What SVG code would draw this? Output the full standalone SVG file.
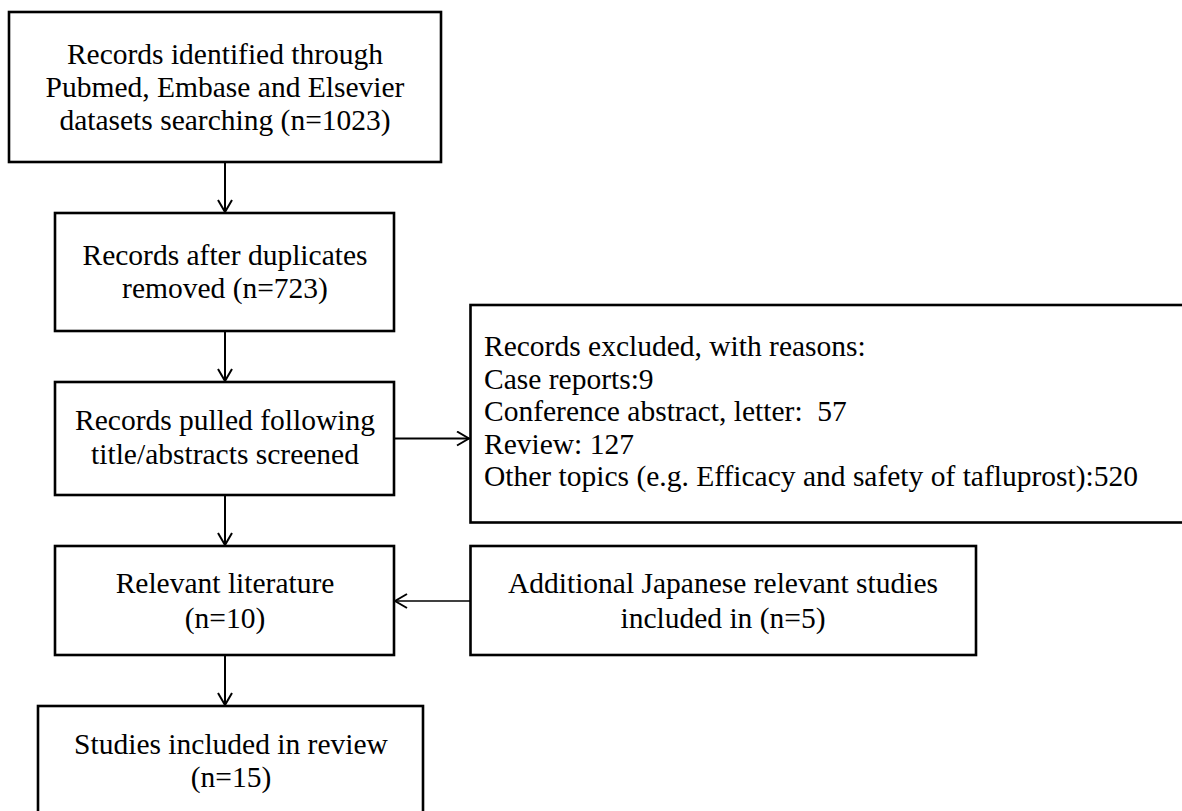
<svg xmlns="http://www.w3.org/2000/svg" width="1182" height="811" viewBox="0 0 1182 811">
  <style>
    .box { fill: #ffffff; stroke: #000000; stroke-width: 2.6; }
    .t { font-family: "Liberation Serif", "Times New Roman", serif; font-size: 29.5px; fill: #000000; }
    .c { text-anchor: middle; }
    .l { text-anchor: start; }
    .edge { fill: none; stroke: #000000; stroke-width: 2; }
    .thin { stroke-width: 1.6; }
  </style>
  <defs>
    <marker id="arrow" viewBox="0 0 14 16" refX="13" refY="8" markerWidth="14" markerHeight="16" markerUnits="userSpaceOnUse" orient="auto">
      <path d="M1,1 L13,8 L1,15" fill="none" stroke="#000000" stroke-width="2"/>
    </marker>
  </defs>
  <rect x="0" y="0" width="1182" height="811" fill="#ffffff"/>

  <g id="connectors">
    <line class="edge" x1="225" y1="162" x2="225" y2="212" marker-end="url(#arrow)"/>
    <line class="edge" x1="225" y1="331" x2="225" y2="381" marker-end="url(#arrow)"/>
    <line class="edge" x1="394" y1="438.5" x2="469" y2="438.5" marker-end="url(#arrow)"/>
    <line class="edge" x1="225" y1="495" x2="225" y2="545" marker-end="url(#arrow)"/>
    <line class="edge thin" x1="470" y1="601" x2="395" y2="601" marker-end="url(#arrow)"/>
    <line class="edge" x1="225" y1="655" x2="225" y2="705" marker-end="url(#arrow)"/>
  </g>

  <g id="node-identified">
    <rect class="box" x="9" y="12" width="432" height="150"/>
    <text class="t c" x="225" y="64">Records identified through</text>
    <text class="t c" x="225" y="97">Pubmed, Embase and Elsevier</text>
    <text class="t c" x="225" y="130">datasets searching (n=1023)</text>
  </g>

  <g id="node-duplicates">
    <rect class="box" x="55" y="213" width="339" height="118"/>
    <text class="t c" x="225" y="265">Records after duplicates</text>
    <text class="t c" x="225" y="298">removed (n=723)</text>
  </g>

  <g id="node-screened">
    <rect class="box" x="55" y="382" width="339" height="113"/>
    <text class="t c" x="225" y="430">Records pulled following</text>
    <text class="t c" x="225" y="464">title/abstracts screened</text>
  </g>

  <g id="node-excluded">
    <rect class="box" x="470.5" y="305" width="730" height="217.5"/>
    <text class="t l" x="484" y="356">Records excluded, with reasons:</text>
    <text class="t l" x="484" y="388.5">Case reports:9</text>
    <text class="t l" x="484" y="421" xml:space="preserve">Conference abstract, letter:  57</text>
    <text class="t l" x="484" y="453.5">Review: 127</text>
    <text class="t l" x="484" y="486">Other topics (e.g. Efficacy and safety of tafluprost):520</text>
  </g>

  <g id="node-relevant">
    <rect class="box" x="55" y="546" width="339" height="109"/>
    <text class="t c" x="225" y="593">Relevant literature</text>
    <text class="t c" x="225" y="628">(n=10)</text>
  </g>

  <g id="node-additional">
    <rect class="box" x="470.5" y="546" width="505.5" height="109"/>
    <text class="t c" x="723" y="593">Additional Japanese relevant studies</text>
    <text class="t c" x="723" y="628">included in (n=5)</text>
  </g>

  <g id="node-included">
    <rect class="box" x="38" y="706" width="385" height="130"/>
    <text class="t c" x="231" y="754">Studies included in review</text>
    <text class="t c" x="231" y="787">(n=15)</text>
  </g>
</svg>
